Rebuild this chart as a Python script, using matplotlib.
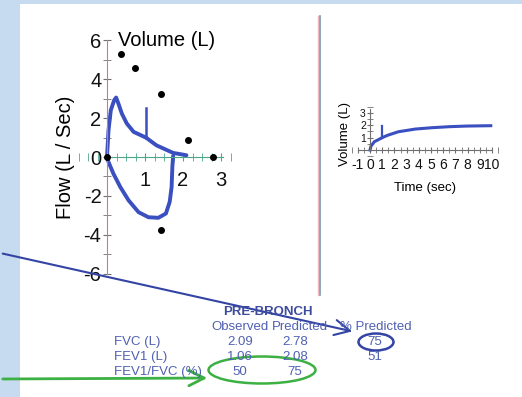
import matplotlib
matplotlib.use("Agg")
import matplotlib.pyplot as plt
from matplotlib.patches import Rectangle, Ellipse, FancyArrowPatch
from matplotlib.ticker import MultipleLocator

plt.rcParams['font.family'] = ['Liberation Sans', 'DejaVu Sans']
plt.rcParams['axes.unicode_minus'] = False

# flow-volume loop (volume L, flow L/s)
exp_vol = [0, 0.04, 0.10, 0.19, 0.24, 0.30, 0.39, 0.52, 0.70, 1.03, 1.30, 1.74, 2.09]
exp_flow = [0, 1.37, 2.40, 2.92, 3.05, 2.74, 2.23, 1.72, 1.29, 0.99, 0.60, 0.21, 0.09]
insp_vol = [1.74, 1.72, 1.70, 1.65, 1.55, 1.35, 1.09, 0.83, 0.57, 0.35, 0.17, 0.04, 0]
insp_flow = [0.05, -0.51, -1.54, -2.30, -2.90, -3.12, -3.09, -2.83, -2.23, -1.54, -0.86, -0.26, 0]
fev1_vol = 1.03
fev1_flow = [0.99, 2.49]
pred_vol = [0, 0.37, 0.74, 1.42, 2.13, 2.80, 1.42]
pred_flow = [0, 5.27, 4.58, 3.22, 0.89, 0, -3.77]

# volume-time curve
t_sec = [0, 0.08, 0.36, 0.78, 1.0, 1.48, 2.32, 3.72, 5.1, 6.5, 7.9, 9.9]
vol_t = [0, 0.32, 0.67, 0.88, 1.0, 1.20, 1.47, 1.69, 1.80, 1.88, 1.93, 1.96]
spike_t = 1.0
spike_v = [1.0, 1.9]

# table
rows = ['FVC (L)', 'FEV1 (L)', 'FEV1/FVC (%)']
observed = ['2.09', '1.06', '50']
predicted = ['2.78', '2.08', '75']
pct_pred = ['75', '51', '']

W, H = 522, 397
fig = plt.figure(figsize=(W / 100, H / 100), dpi=100)
fig.patch.set_facecolor('#c6daf0')


def px_axes(l, t, r, b, z):
    ax = fig.add_axes([l / W, 1 - b / H, (r - l) / W, (b - t) / H], zorder=z)
    ax.patch.set_alpha(0)
    return ax


bg = px_axes(0, 0, W, H, 0)
bg.set_xlim(0, W)
bg.set_ylim(H, 0)
bg.axis('off')
bg.add_patch(Rectangle((20, 4), W - 20, H - 4, facecolor='white', edgecolor='none'))
bg.plot([318.3, 318.3], [16, 295], color='#f0b8c0', lw=1)
bg.plot([320, 320], [16, 295], color='#7f97b0', lw=1.2)

blue_line = '#3a4fc0'
txt_c = '#5060b2'

# left chart: flow-volume
ax1 = px_axes(61.4, 30.3, 236.2, 283.7, 2)
ax1.set_xlim(-1.2, 3.4)
ax1.set_ylim(-6.5, 6.5)
for s in ['top', 'right']:
    ax1.spines[s].set_visible(False)
ax1.spines['left'].set_position(('data', 0))
ax1.spines['bottom'].set_position(('data', 0))
ax1.spines['left'].set_bounds(-6, 6)
ax1.spines['bottom'].set_bounds(0, 3.05)
ax1.spines['left'].set_color('#d07a80')
ax1.spines['bottom'].set_color('#4aa88a')
ax1.set_yticks([-6, -4, -2, 0, 2, 4, 6])
ax1.set_xticks([1, 2, 3])
ax1.yaxis.set_minor_locator(MultipleLocator(1))
ax1.xaxis.set_minor_locator(MultipleLocator(0.25))
ax1.tick_params(axis='y', which='both', direction='inout', length=6, colors='#707070',
                labelcolor='#111111', labelsize=14.5, pad=1)
ax1.tick_params(axis='x', which='both', direction='inout', length=6, colors='#4aa88a',
                labelcolor='#111111', labelsize=14.5, pad=7)
ax1.plot(exp_vol, exp_flow, color=blue_line, lw=2.8, solid_capstyle='round',
         solid_joinstyle='round')
ax1.plot(insp_vol, insp_flow, color=blue_line, lw=2.8, solid_capstyle='round',
         solid_joinstyle='round')
ax1.plot([fev1_vol, fev1_vol], fev1_flow, color=blue_line, lw=1.8)
ax1.scatter(pred_vol, pred_flow, s=16, color='black', zorder=5)
ax1.text(0.29, 6.0, 'Volume (L)', fontsize=14.5, va='center', ha='left')
ax1.text(-1.1, 0, 'Flow (L / Sec)', fontsize=14.5, rotation=90, va='center', ha='center')

# right chart: volume-time
ax2 = px_axes(351.7, 106.6, 498.1, 156.2, 2)
ax2.set_xlim(-1.5, 10.5)
ax2.set_ylim(-0.5, 3.5)
for s in ['top', 'right']:
    ax2.spines[s].set_visible(False)
ax2.spines['left'].set_position(('data', 0))
ax2.spines['bottom'].set_position(('data', 0))
ax2.spines['left'].set_bounds(0, 3.3)
ax2.spines['bottom'].set_bounds(-1, 10)
ax2.spines['left'].set_color('#707070')
ax2.spines['bottom'].set_color('#707070')
ax2.set_xticks(range(-1, 11))
ax2.set_yticks([1, 2, 3])
ax2.xaxis.set_minor_locator(MultipleLocator(0.5))
ax2.yaxis.set_minor_locator(MultipleLocator(0.5))
ax2.tick_params(axis='x', which='both', direction='inout', length=4, colors='#707070',
                labelcolor='#111111', labelsize=10, pad=4)
ax2.tick_params(axis='y', which='both', direction='inout', length=4, colors='#707070',
                labelcolor='#111111', labelsize=7.5, pad=1)
ax2.plot(t_sec, vol_t, color=blue_line, lw=2.2)
ax2.plot([spike_t, spike_t], spike_v, color=blue_line, lw=1.6)
ax2.text(-2.05, 1.25, 'Volume (L)', fontsize=9.5, rotation=90, va='center', ha='center')
ax2.text(4.5, -3.1, 'Time (sec)', fontsize=9.5, va='center', ha='center')

# table and annotations
top = px_axes(0, 0, W, H, 5)
top.set_xlim(0, W)
top.set_ylim(H, 0)
top.axis('off')
fs = 9.5
top.text(268, 312, 'PRE-BRONCH', fontsize=fs, fontweight='bold', color='#3e4c9e',
         ha='center', va='center')
top.text(211, 327, 'Observed', fontsize=fs, color=txt_c, ha='left', va='center')
top.text(272, 327, 'Predicted', fontsize=fs, color=txt_c, ha='left', va='center')
top.text(340, 327, '% Predicted', fontsize=fs, color=txt_c, ha='left', va='center')
for i, r in enumerate(rows):
    y = 342 + 15 * i
    top.text(114, y, r, fontsize=fs, color=txt_c, ha='left', va='center')
    top.text(240, y, observed[i], fontsize=fs, color=txt_c, ha='center', va='center')
    top.text(295, y, predicted[i], fontsize=fs, color=txt_c, ha='center', va='center')
    top.text(375, y, pct_pred[i], fontsize=fs, color=txt_c, ha='center', va='center')

top.add_patch(Ellipse((376, 342), 35, 17, fill=False, edgecolor='#3444a4', lw=1.8))
top.add_patch(Ellipse((262, 370), 107, 27, fill=False, edgecolor='#3cb043', lw=1.8))
top.add_patch(FancyArrowPatch((0, 253), (355, 332), arrowstyle='->,head_length=5,head_width=2.5',
                              color='#3444a4', lw=1.5, mutation_scale=2.2))
top.add_patch(FancyArrowPatch((0, 379), (210, 378), arrowstyle='->,head_length=5,head_width=2.5',
                              color='#3cb043', lw=2.0, mutation_scale=2.2))

fig.savefig('out.png', dpi=100)
